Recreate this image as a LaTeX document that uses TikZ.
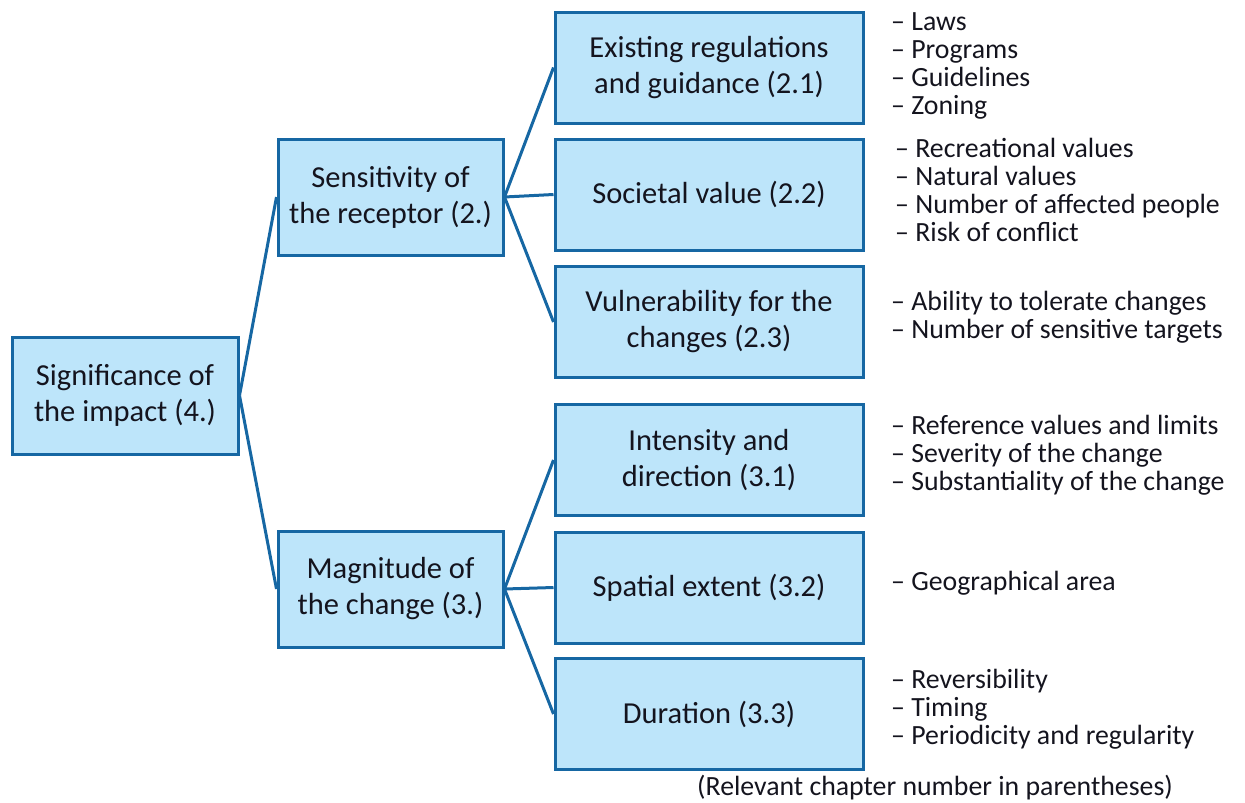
\documentclass[tikz,border=0pt]{standalone}
\usepackage{fontspec}
\setmainfont{Carlito}
\definecolor{boxfill}{RGB}{189,229,250}
\definecolor{boxline}{RGB}{22,103,163}
\definecolor{txt}{RGB}{20,20,30}
\begin{document}
\begin{tikzpicture}[x=1pt,y=-1pt,
  box/.style={draw=boxline,fill=boxfill,line width=3pt,align=center,inner sep=0pt,
    text=txt,font={\fontsize{30.5}{36}\selectfont}},
  rootbox/.style={box,minimum width=226pt,minimum height=117pt},
  midbox/.style={box,minimum width=225pt,minimum height=116pt},
  leafbox/.style={box,minimum width=308pt,minimum height=111pt},
  items/.style={anchor=west,align=left,inner sep=0pt,text=txt,font={\fontsize{27.8}{28}\selectfont}},
  link/.style={draw=boxline,line width=3pt}]
\useasboundingbox (0,0) rectangle (1245,803);
\node[rootbox] (root) at (125,395.5) {Significance of\\the impact (4.)};
\node[midbox] (sens) at (390.5,197) {Sensitivity of\\the receptor (2.)};
\node[midbox] (magn) at (390.5,589) {Magnitude of\\the change (3.)};
\node[leafbox] (l21) at (709,67.5) {Existing regulations\\and guidance (2.1)};
\node[leafbox] (l22) at (709,194.5) {Societal value (2.2)};
\node[leafbox] (l23) at (709,322) {Vulnerability for the\\changes (2.3)};
\node[leafbox] (l31) at (709,460) {Intensity and\\direction (3.1)};
\node[leafbox] (l32) at (709,587.5) {Spatial extent (3.2)};
\node[leafbox] (l33) at (709,714) {Duration (3.3)};
\path[link] (root.east) -- (sens.west);
\path[link] (root.east) -- (magn.west);
\foreach \c in {l21,l22,l23} \path[link] (sens.east) -- (\c.west);
\foreach \c in {l31,l32,l33} \path[link] (magn.east) -- (\c.west);
\node[items] (i21) at (891,66) {– Laws\\– Programs\\– Guidelines\\– Zoning};
\node[items] (i22) at (895,190) {– Recreational values\\– Natural values\\– Number of affected people\\– Risk of conflict};
\node[items] (i23) at (891,317) {– Ability to tolerate changes\\– Number of sensitive targets};
\node[items] (i31) at (891,455) {– Reference values and limits\\– Severity of the change\\– Substantiality of the change};
\node[items] (i32) at (891,583) {– Geographical area};
\node[items] (i33) at (891,709) {– Reversibility\\– Timing\\– Periodicity and regularity};
\node[items,anchor=base west] (note) at (697,795) {(Relevant chapter number in parentheses)};
\end{tikzpicture}
\end{document}
